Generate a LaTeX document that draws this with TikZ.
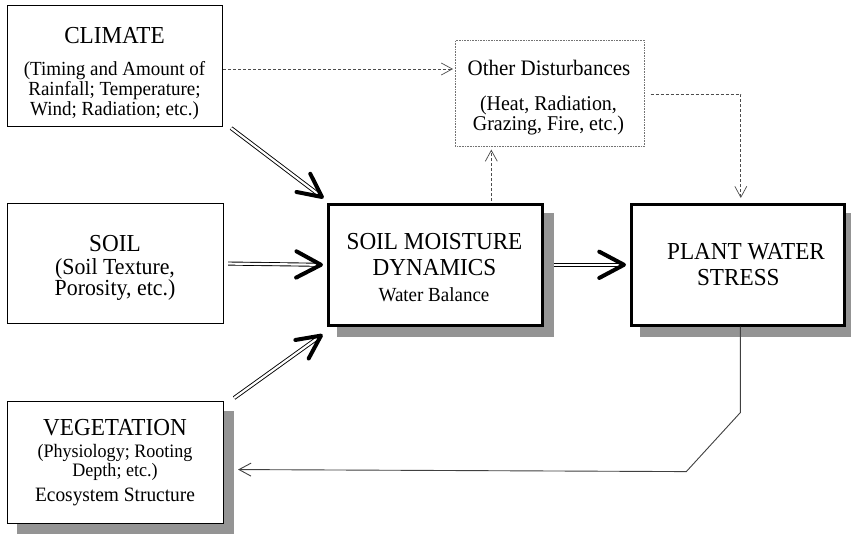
\documentclass[tikz,border=0pt]{standalone}
\usepackage{fontspec}
\setmainfont[FakeStretch=0.95]{Liberation Serif}
\usetikzlibrary{calc,arrows.meta,backgrounds}
\tikzset{
  plainbox/.style={draw=black, line width=1.1pt, fill=white, inner sep=0pt, anchor=north west},
  boldbox/.style={draw=black, line width=2.6pt, fill=white, inner sep=0pt, anchor=north west},
  otherbox/.style={draw=black!55, line width=0.6pt, densely dotted, fill=white, inner sep=0pt, anchor=north west},
  shadowfill/.style={fill=black!42},
  ttl/.style={font=\fontsize{24.4}{26}\selectfont, anchor=base, inner sep=0pt},
  sub/.style={font=\fontsize{20}{19.2}\selectfont, anchor=base, inner sep=0pt},
  dbl/.style={draw=black, line width=0.9pt, double=white, double distance=2.2pt},
  head/.style={draw=black, line width=4pt, line cap=round, line join=round},
  dsh/.style={draw=black!70, line width=0.7pt, dash pattern=on 3pt off 2pt,
     -{Straight Barb[length=11pt,width=12pt,line width=0.7pt]}},
  fb/.style={draw=black!75, line width=0.9pt, -{Straight Barb[length=12pt,width=13pt,line width=0.9pt]}},
}
\newcommand\rowsblk[1]{\begin{tabular}[t]{@{}c@{}}#1\end{tabular}}
\begin{document}
\begin{tikzpicture}[x=1pt,y=-1pt]
\useasboundingbox (0,0) rectangle (851,535);

% boxes
\node[plainbox, minimum width=215pt, minimum height=121pt] (climate) at (7,5) {};
\node[plainbox, minimum width=216pt, minimum height=120pt] (soil) at (7,203) {};
\node[plainbox, minimum width=216pt, minimum height=122pt] (veg) at (7,401) {};
\node[boldbox, minimum width=214pt, minimum height=121pt] (sm) at (327,203) {};
\node[boldbox, minimum width=213pt, minimum height=121pt] (pws) at (630,203) {};
\node[otherbox, minimum width=189pt, minimum height=106pt] (other) at (455,40) {};

% background and shadows
\begin{scope}[on background layer]
  \fill[white] (0,0) rectangle (851,535);
  \fill[shadowfill] ($(sm.north west)+(10,10)$) rectangle ($(sm.south east)+(10,10)$);
  \fill[shadowfill] ($(pws.north west)+(10,10)$) rectangle ($(pws.south east)+(10,10)$);
  \fill[shadowfill] ($(veg.north west)+(10,10)$) rectangle ($(veg.south east)+(10,10)$);
\end{scope}

% texts
\node[ttl] (climateT) at (114.5,44) {CLIMATE};
\node[sub] (climateS) at (114.5,76) {\rowsblk{(Timing and Amount of\\Rainfall; Temperature;\\Wind; Radiation; etc.)}};
\node[ttl] (soilT) at (115,251) {SOIL};
\node[sub, font=\fontsize{23}{20}\selectfont] (soilS) at (115,274) {\rowsblk{(Soil Texture,\\Porosity, etc.)}};
\node[ttl] (vegT) at (115,435) {VEGETATION};
\node[sub, font=\fontsize{19}{19.5}\selectfont] (vegS) at (115,457) {\rowsblk{(Physiology; Rooting\\Depth; etc.)}};
\node[sub, font=\fontsize{20.4}{20}\selectfont] (vegE) at (115,501.5) {Ecosystem Structure};
\node[ttl] (smT) at (434.5,249.3) {\rowsblk{SOIL MOISTURE\\DYNAMICS}};
\node[sub] (smW) at (434,301.5) {Water Balance};
\node[ttl] (pwsT1) at (746,259.3) {PLANT WATER};
\node[ttl] (pwsT2) at (738.3,285) {STRESS};
\node[ttl, font=\fontsize{22.1}{24}\selectfont] (otherT) at (549,75) {Other Disturbances};
\node[sub, font=\fontsize{21}{19}\selectfont] (otherS) at (548.5,110.5) {\rowsblk{(Heat, Radiation,\\Grazing, Fire, etc.)}};

% double arrows
\coordinate (a1s) at ($(climate.south east)+(8,1)$);
\coordinate (a1t) at ($(sm.north west)+(-5,-6)$);
\draw[dbl] (a1s) -- ($(a1t)!3pt!(a1s)$);
\draw[head] ($(a1t)!26pt!26:(a1s)$) -- (a1t) -- ($(a1t)!26pt!-26:(a1s)$);

\coordinate (a2s) at ($(soil.east)+(4,0)$);
\coordinate (a2t) at ($(sm.west)+(-6,0)$);
\draw[dbl] (a2s) -- ($(a2t)!3pt!(a2s)$);
\draw[head] ($(a2t)!28pt!28:(a2s)$) -- (a2t) -- ($(a2t)!28pt!-28:(a2s)$);

\coordinate (a3s) at ($(veg.north east)+(10,-3)$);
\coordinate (a3t) at ($(sm.south west)+(-6,9)$);
\draw[dbl] (a3s) -- ($(a3t)!3pt!(a3s)$);
\draw[head] ($(a3t)!26pt!26:(a3s)$) -- (a3t) -- ($(a3t)!26pt!-26:(a3s)$);

\coordinate (a4s) at ($(sm.east)+(10,0)$);
\coordinate (a4t) at ($(pws.west)+(-6,0)$);
\draw[dbl] (a4s) -- ($(a4t)!3pt!(a4s)$);
\draw[head] ($(a4t)!28pt!28:(a4s)$) -- (a4t) -- ($(a4t)!28pt!-28:(a4s)$);

% dashed arrows
\coordinate (d1) at ($(climate.north east)+(0,64)$);
\draw[dsh] (d1) -- ($(d1 -| other.west)+(-2,0)$);
\coordinate (d2) at ($(sm.north)+(56,-2)$);
\coordinate (d2e) at (d2 |- other.south);
\draw[dsh] (d2) -- ($(d2e)+(0,3)$);
\draw[dsh] ($(other.east)+(6,1)$) -| ($(pws.north)+(3,-5)$);

% feedback
\coordinate (f0) at ($(pws.south)+(2.5,0)$);
\coordinate (f1) at ($(f0)+(0,86)$);
\coordinate (f2) at ($(f1)+(-54,59)$);
\coordinate (f3) at ($(veg.east)+(14,7)$);
\draw[fb] (f0) -- (f1) -- (f2) -- (f3);
\end{tikzpicture}
\end{document}
